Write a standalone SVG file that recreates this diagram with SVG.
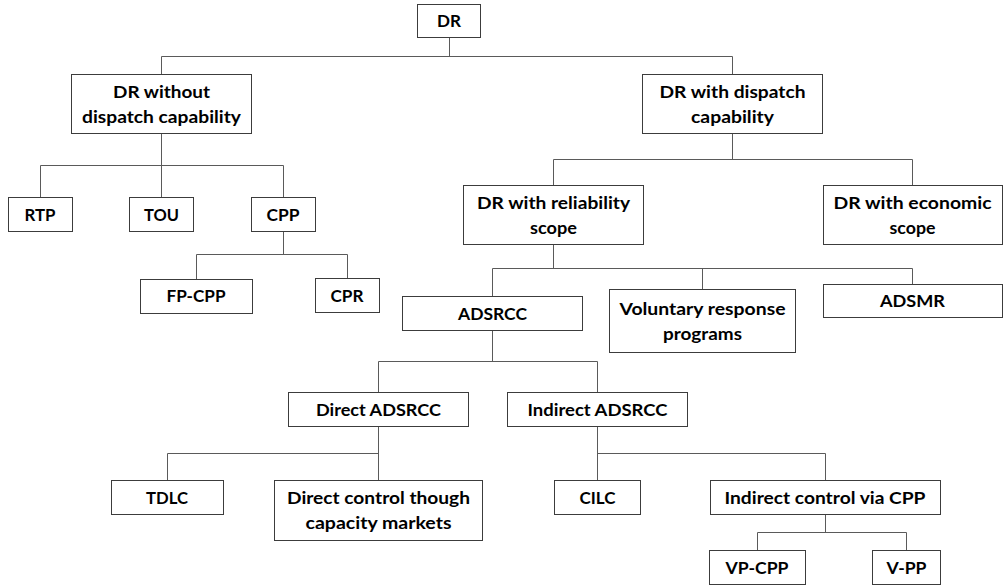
<svg xmlns="http://www.w3.org/2000/svg" width="1003" height="585" viewBox="0 0 1003 585">
<style>
.b{fill:#fff;stroke:#3c3c3c;stroke-width:1}
.t{font-family:Lato,"Open Sans","Liberation Sans",sans-serif;font-weight:bold;font-size:17px;fill:#000;text-anchor:middle}
.c{fill:none;stroke:#5a5a5a;stroke-width:1}
</style>
<rect width="1003" height="585" fill="#fff"/>
<g id="connectors">
<path class="c" d="M449.5,37.5V56.5M161.5,74.5V56.5H732.5V74.5"/>
<path class="c" d="M161.5,133.5V165.5M40.5,197.5V165.5H283.5V197.5M161.5,165.5V197.5"/>
<path class="c" d="M283.5,231.5V254.5M196.5,279.5V254.5H347.5V278.5"/>
<path class="c" d="M732.5,133.5V159.5M553.5,185.5V159.5H912.5V185.5"/>
<path class="c" d="M553.5,244.5V268.5M492.5,296.5V268.5H912.5V284.5M702.5,268.5V289.5"/>
<path class="c" d="M492.5,330.5V361.5M378.5,392.5V361.5H597.5V392.5"/>
<path class="c" d="M378.5,426.5V480.5M167.5,480.5V453.5H378.5"/>
<path class="c" d="M597.5,426.5V480.5M597.5,453.5H825.5V480.5"/>
<path class="c" d="M825.5,514.5V532.5M757.5,550.5V532.5H906.5V550.5"/>
</g>
<g id="n-dr"><rect class="b" x="417.5" y="4.5" width="63" height="33"/><text class="t" x="449" y="27" textLength="24" lengthAdjust="spacingAndGlyphs">DR</text></g>
<g id="n-without"><rect class="b" x="71.5" y="74.5" width="180" height="59"/><text class="t" x="161.5" y="97.5" textLength="97" lengthAdjust="spacingAndGlyphs">DR without</text><text class="t" x="161.5" y="122.5" textLength="159" lengthAdjust="spacingAndGlyphs">dispatch capability</text></g>
<g id="n-with"><rect class="b" x="642.5" y="74.5" width="180" height="59"/><text class="t" x="732.5" y="97.5" textLength="146" lengthAdjust="spacingAndGlyphs">DR with dispatch</text><text class="t" x="732.5" y="122.5" textLength="83" lengthAdjust="spacingAndGlyphs">capability</text></g>
<g id="n-rtp"><rect class="b" x="8.5" y="197.5" width="64" height="34"/><text class="t" x="40" y="220.5" textLength="31" lengthAdjust="spacingAndGlyphs">RTP</text></g>
<g id="n-tou"><rect class="b" x="129.5" y="197.5" width="64" height="34"/><text class="t" x="161.5" y="220.5" textLength="35" lengthAdjust="spacingAndGlyphs">TOU</text></g>
<g id="n-cpp"><rect class="b" x="251.5" y="197.5" width="64" height="34"/><text class="t" x="283" y="220.5" textLength="33" lengthAdjust="spacingAndGlyphs">CPP</text></g>
<g id="n-fpcpp"><rect class="b" x="140.5" y="279.5" width="112" height="34"/><text class="t" x="196" y="302" textLength="59" lengthAdjust="spacingAndGlyphs">FP-CPP</text></g>
<g id="n-cpr"><rect class="b" x="315.5" y="278.5" width="64" height="34"/><text class="t" x="347" y="301.5" textLength="33" lengthAdjust="spacingAndGlyphs">CPR</text></g>
<g id="n-rel"><rect class="b" x="463.5" y="185.5" width="180" height="59"/><text class="t" x="553.5" y="208.5" textLength="153" lengthAdjust="spacingAndGlyphs">DR with reliability</text><text class="t" x="553.5" y="233.5" textLength="47" lengthAdjust="spacingAndGlyphs">scope</text></g>
<g id="n-eco"><rect class="b" x="823.5" y="185.5" width="179" height="59"/><text class="t" x="912.5" y="208.5" textLength="158" lengthAdjust="spacingAndGlyphs">DR with economic</text><text class="t" x="912.5" y="233.5" textLength="46" lengthAdjust="spacingAndGlyphs">scope</text></g>
<g id="n-adsrcc"><rect class="b" x="402.5" y="296.5" width="180" height="34"/><text class="t" x="492.5" y="319.5" textLength="69" lengthAdjust="spacingAndGlyphs">ADSRCC</text></g>
<g id="n-vol"><rect class="b" x="609.5" y="289.5" width="186" height="63"/><text class="t" x="702.5" y="314.5" textLength="166" lengthAdjust="spacingAndGlyphs">Voluntary response</text><text class="t" x="702.5" y="339.5" textLength="79" lengthAdjust="spacingAndGlyphs">programs</text></g>
<g id="n-adsmr"><rect class="b" x="823.5" y="284.5" width="179" height="33"/><text class="t" x="912.5" y="307" textLength="65" lengthAdjust="spacingAndGlyphs">ADSMR</text></g>
<g id="n-direct"><rect class="b" x="288.5" y="392.5" width="180" height="34"/><text class="t" x="378.5" y="415.5" textLength="125" lengthAdjust="spacingAndGlyphs">Direct ADSRCC</text></g>
<g id="n-indirect"><rect class="b" x="507.5" y="392.5" width="180" height="34"/><text class="t" x="597.5" y="415.5" textLength="140" lengthAdjust="spacingAndGlyphs">Indirect ADSRCC</text></g>
<g id="n-tdlc"><rect class="b" x="111.5" y="480.5" width="112" height="34"/><text class="t" x="167" y="503.5" textLength="42" lengthAdjust="spacingAndGlyphs">TDLC</text></g>
<g id="n-dcm"><rect class="b" x="274.5" y="480.5" width="208" height="60"/><text class="t" x="378.5" y="504" textLength="183" lengthAdjust="spacingAndGlyphs">Direct control though</text><text class="t" x="378.5" y="529" textLength="146" lengthAdjust="spacingAndGlyphs">capacity markets</text></g>
<g id="n-cilc"><rect class="b" x="554.5" y="480.5" width="86" height="34"/><text class="t" x="597.5" y="503.5" textLength="36" lengthAdjust="spacingAndGlyphs">CILC</text></g>
<g id="n-icv"><rect class="b" x="710.5" y="480.5" width="230" height="34"/><text class="t" x="825" y="503.5" textLength="201" lengthAdjust="spacingAndGlyphs">Indirect control via CPP</text></g>
<g id="n-vpcpp"><rect class="b" x="709.5" y="550.5" width="96" height="34"/><text class="t" x="757" y="573.5" textLength="63" lengthAdjust="spacingAndGlyphs">VP-CPP</text></g>
<g id="n-vpp"><rect class="b" x="872.5" y="550.5" width="68" height="34"/><text class="t" x="906.5" y="573.5" textLength="40" lengthAdjust="spacingAndGlyphs">V-PP</text></g>
</svg>
